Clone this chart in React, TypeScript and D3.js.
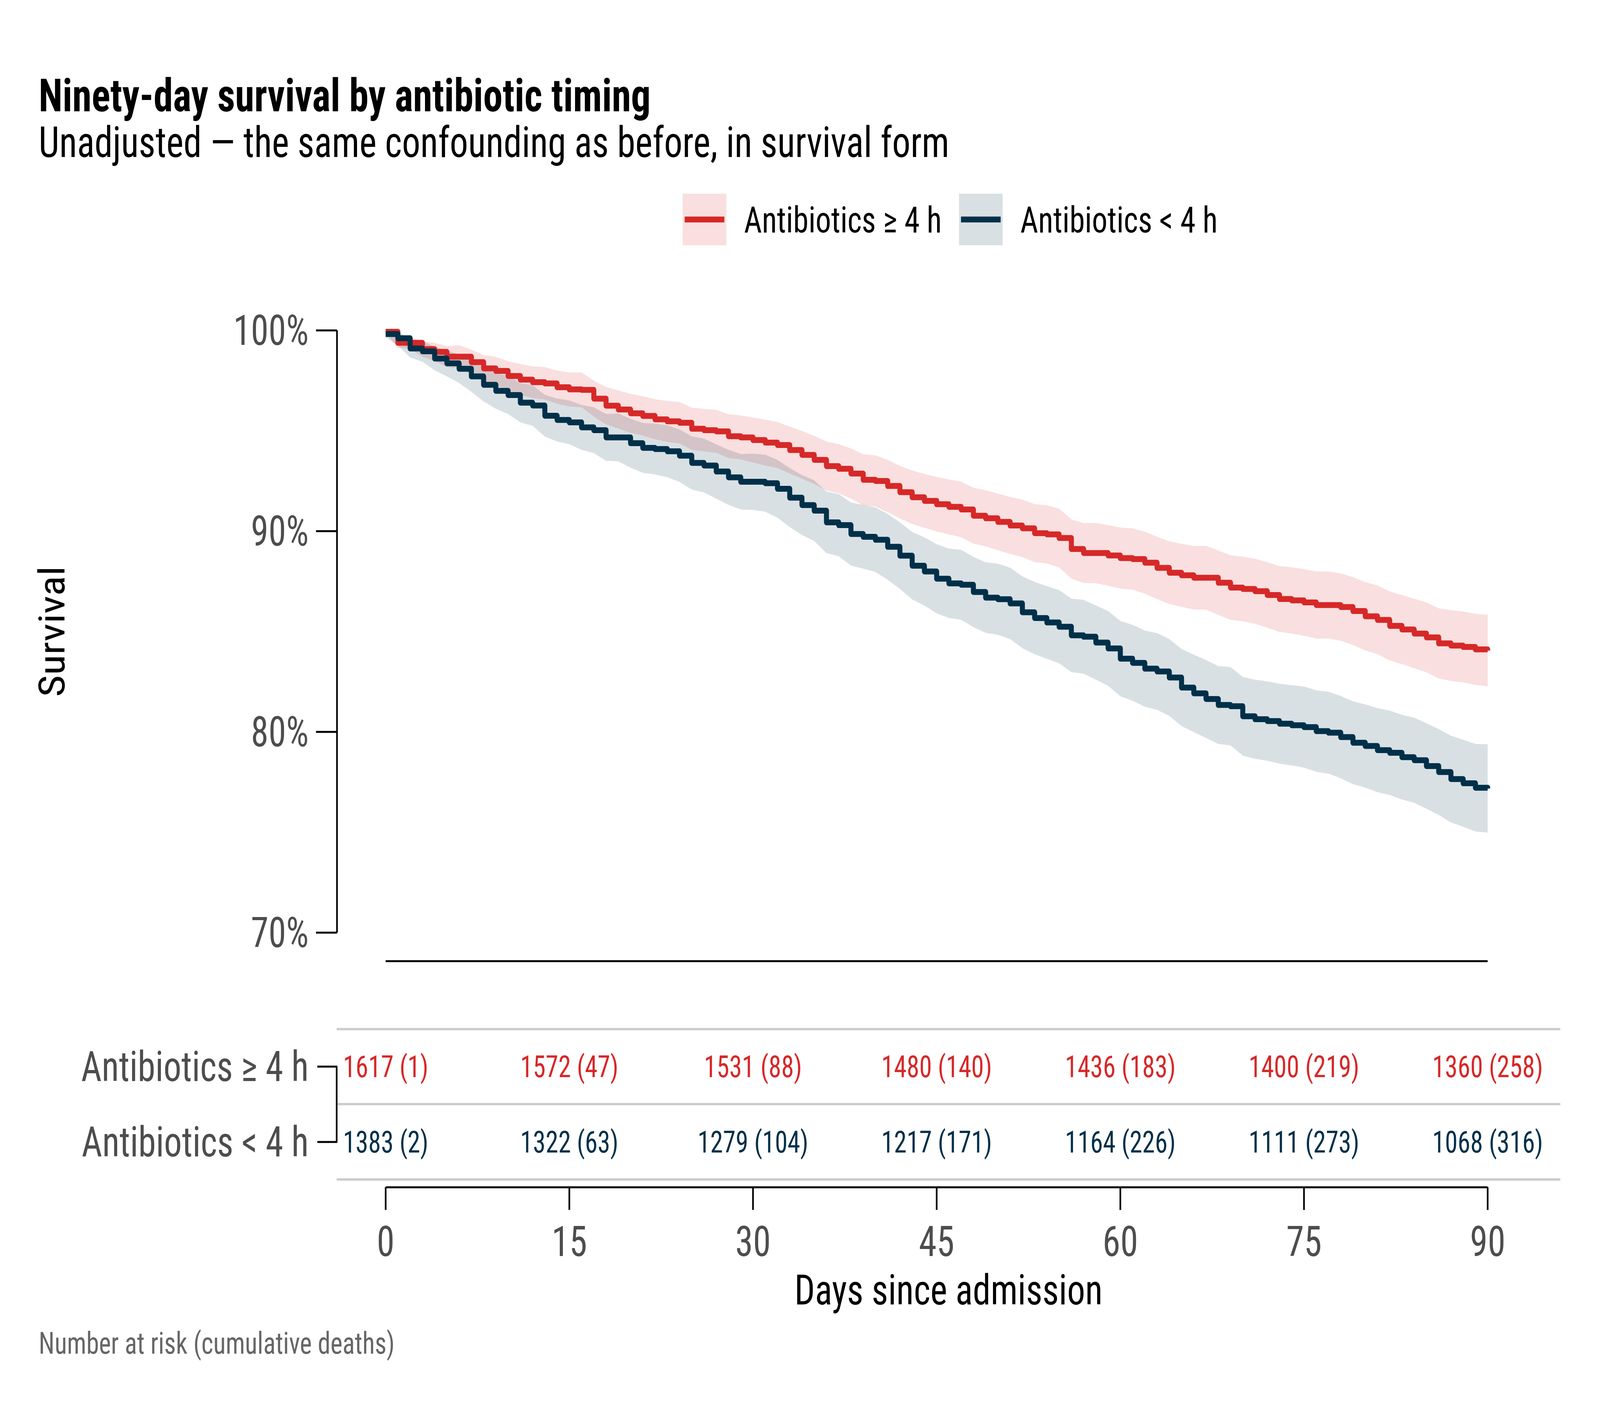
import React from 'react';
import * as d3 from 'd3';

// ---------- DATA ----------
const days = d3.range(0, 91);

// Kaplan–Meier survival (%) by day, Antibiotics ≥ 4 h
const survLate = [
  99.93, 99.38, 99.38, 99.07, 98.93, 98.69, 98.69, 98.42, 98.11, 97.98,
  97.73, 97.55, 97.42, 97.36, 97.17, 97.06, 97.04, 96.60, 96.25, 96.06,
  95.87, 95.74, 95.57, 95.47, 95.40, 95.10, 95.03, 94.97, 94.73, 94.67,
  94.54, 94.41, 94.29, 94.04, 93.80, 93.55, 93.24, 93.11, 92.87, 92.56,
  92.50, 92.25, 91.94, 91.69, 91.51, 91.34, 91.21, 91.08, 90.77, 90.64,
  90.46, 90.28, 90.14, 89.90, 89.84, 89.66, 89.11, 88.91, 88.91, 88.79,
  88.66, 88.61, 88.43, 88.17, 87.93, 87.80, 87.68, 87.68, 87.43, 87.19,
  87.12, 87.01, 86.82, 86.62, 86.55, 86.45, 86.32, 86.32, 86.22, 86.02,
  85.76, 85.58, 85.28, 85.10, 84.90, 84.71, 84.41, 84.30, 84.23, 84.11,
  84.05,
];
const lateUpper = [
  99.98, 99.63, 99.68, 99.45, 99.38, 99.21, 99.26, 99.04, 98.77, 98.68,
  98.47, 98.32, 98.21, 98.17, 98.00, 97.91, 97.91, 97.50, 97.18, 97.01,
  96.84, 96.72, 96.57, 96.49, 96.43, 96.15, 96.09, 96.04, 95.82, 95.77,
  95.66, 95.55, 95.44, 95.21, 94.99, 94.75, 94.46, 94.34, 94.12, 93.83,
  93.78, 93.55, 93.25, 93.02, 92.85, 92.70, 92.58, 92.46, 92.16, 92.04,
  91.87, 91.70, 91.57, 91.34, 91.29, 91.12, 90.59, 90.40, 90.41, 90.30,
  90.18, 90.14, 89.97, 89.72, 89.49, 89.37, 89.26, 89.27, 89.03, 88.80,
  88.73, 88.63, 88.45, 88.26, 88.20, 88.11, 87.99, 87.99, 87.90, 87.71,
  87.46, 87.29, 87.00, 86.82, 86.63, 86.45, 86.16, 86.06, 85.99, 85.88,
  85.83,
];
const lateLower = [
  99.88, 99.13, 99.08, 98.69, 98.48, 98.17, 98.12, 97.80, 97.45, 97.28,
  96.99, 96.78, 96.63, 96.55, 96.34, 96.21, 96.17, 95.70, 95.32, 95.11,
  94.90, 94.76, 94.57, 94.45, 94.37, 94.05, 93.97, 93.90, 93.64, 93.57,
  93.42, 93.27, 93.14, 92.87, 92.61, 92.35, 92.02, 91.88, 91.62, 91.29,
  91.22, 90.95, 90.63, 90.36, 90.17, 89.98, 89.84, 89.70, 89.38, 89.24,
  89.05, 88.86, 88.71, 88.46, 88.39, 88.20, 87.63, 87.42, 87.41, 87.28,
  87.14, 87.08, 86.89, 86.62, 86.37, 86.23, 86.10, 86.09, 85.83, 85.58,
  85.51, 85.39, 85.19, 84.98, 84.90, 84.79, 84.65, 84.65, 84.54, 84.33,
  84.06, 83.87, 83.56, 83.38, 83.17, 82.97, 82.66, 82.54, 82.47, 82.34,
  82.27,
];

// Kaplan–Meier survival (%) by day, Antibiotics < 4 h
const survEarly = [
  99.82, 99.61, 99.10, 98.96, 98.60, 98.36, 98.09, 97.71, 97.29, 96.99,
  96.78, 96.40, 96.26, 95.75, 95.54, 95.42, 95.17, 95.03, 94.67, 94.67,
  94.38, 94.15, 94.09, 93.98, 93.76, 93.40, 93.27, 92.97, 92.68, 92.46,
  92.46, 92.39, 92.11, 91.67, 91.30, 91.02, 90.44, 90.30, 89.86, 89.72,
  89.57, 89.22, 88.78, 88.28, 87.99, 87.63, 87.40, 87.33, 86.97, 86.69,
  86.61, 86.40, 85.96, 85.67, 85.45, 85.24, 84.81, 84.74, 84.45, 84.16,
  83.65, 83.44, 83.15, 83.01, 82.71, 82.21, 81.92, 81.64, 81.34, 81.28,
  80.78, 80.63, 80.54, 80.41, 80.33, 80.24, 80.04, 79.96, 79.74, 79.46,
  79.30, 79.09, 78.96, 78.74, 78.59, 78.30, 78.00, 77.65, 77.44, 77.22,
  77.18,
];
const earlyUpper = [
  99.98, 99.96, 99.55, 99.48, 99.19, 99.01, 98.80, 98.48, 98.12, 97.88,
  97.73, 97.38, 97.27, 96.79, 96.61, 96.51, 96.29, 96.17, 95.84, 95.86,
  95.60, 95.39, 95.36, 95.27, 95.07, 94.73, 94.61, 94.32, 94.05, 93.84,
  93.86, 93.81, 93.55, 93.14, 92.79, 92.53, 91.97, 91.85, 91.43, 91.31,
  91.18, 90.86, 90.44, 89.96, 89.69, 89.35, 89.13, 89.07, 88.72, 88.45,
  88.38, 88.18, 87.75, 87.47, 87.26, 87.06, 86.64, 86.58, 86.30, 86.02,
  85.53, 85.33, 85.05, 84.92, 84.62, 84.13, 83.85, 83.58, 83.28, 83.23,
  82.74, 82.60, 82.52, 82.40, 82.33, 82.26, 82.07, 82.00, 81.79, 81.52,
  81.37, 81.18, 81.06, 80.85, 80.71, 80.43, 80.14, 79.81, 79.61, 79.40,
  79.38,
];
const earlyLower = [
  99.66, 99.26, 98.65, 98.44, 98.01, 97.71, 97.38, 96.94, 96.46, 96.10,
  95.83, 95.42, 95.25, 94.71, 94.47, 94.33, 94.05, 93.89, 93.50, 93.48,
  93.16, 92.91, 92.82, 92.69, 92.45, 92.07, 91.93, 91.62, 91.31, 91.08,
  91.06, 90.97, 90.67, 90.20, 89.81, 89.51, 88.91, 88.75, 88.29, 88.13,
  87.96, 87.58, 87.12, 86.60, 86.29, 85.91, 85.67, 85.59, 85.22, 84.93,
  84.84, 84.62, 84.17, 83.87, 83.64, 83.42, 82.98, 82.90, 82.60, 82.30,
  81.77, 81.55, 81.25, 81.10, 80.80, 80.29, 79.99, 79.70, 79.40, 79.33,
  78.82, 78.66, 78.56, 78.42, 78.33, 78.22, 78.01, 77.92, 77.69, 77.40,
  77.23, 77.00, 76.86, 76.63, 76.47, 76.17, 75.86, 75.49, 75.27, 75.04,
  74.98,
];

const groupNames = ['Antibiotics \u2265 4 h', 'Antibiotics < 4 h'];
const groupColors = ['#d62828', '#003049'];

const riskTimes = [0, 15, 30, 45, 60, 75, 90];
const atRiskLate = [1617, 1572, 1531, 1480, 1436, 1400, 1360];
const deathsLate = [1, 47, 88, 140, 183, 219, 258];
const atRiskEarly = [1383, 1322, 1279, 1217, 1164, 1111, 1068];
const deathsEarly = [2, 63, 104, 171, 226, 273, 316];

const yTicks = [70, 80, 90, 100];
const xTicks = [0, 15, 30, 45, 60, 75, 90];

const titleText = 'Ninety-day survival by antibiotic timing';
const subtitleText = 'Unadjusted \u2014 the same confounding as before, in survival form';
const captionText = 'Number at risk (cumulative deaths)';

// ---------- LAYOUT ----------
const W = 4800;
const H = 3600;
const FONT = "'Roboto Condensed', 'Roboto', 'Noto Sans', sans-serif";
const STRETCH = 'condensed';

const x = d3.scaleLinear().domain([0, 90]).range([1157, 4463]);
const y = d3.scaleLinear().domain([70, 100]).range([2388, 846]);
const panelLeft = 1010;
const panelRight = 4681;
const panelBottom = 2461;

type Pt = { t: number; s: number; lo: number; hi: number };

function series(s: number[], lo: number[], hi: number[]): Pt[] {
  return days.map((t, i) => ({ t, s: s[i], lo: lo[i], hi: hi[i] }));
}

const groups = [
  { name: groupNames[0], color: groupColors[0], pts: series(survLate, lateLower, lateUpper), atRisk: atRiskLate, deaths: deathsLate },
  { name: groupNames[1], color: groupColors[1], pts: series(survEarly, earlyLower, earlyUpper), atRisk: atRiskEarly, deaths: deathsEarly },
];

const stepLine = d3
  .line<Pt>()
  .curve(d3.curveStepAfter)
  .x((d) => x(d.t))
  .y((d) => y(d.s));

const band = d3
  .area<Pt>()
  .x((d) => x(d.t))
  .y0((d) => y(d.lo))
  .y1((d) => y(d.hi));

const rowY = [2731, 2924];
const tableLines = [2635, 2827, 3020];

export default function App() {
  const textBase = { fontFamily: FONT, fontStretch: STRETCH } as React.CSSProperties;
  return (
    <svg
      viewBox={`0 0 ${W} ${H}`}
      preserveAspectRatio="none"
      style={{ position: 'fixed', left: 0, top: 0, width: '100vw', height: '100vh', display: 'block', background: '#ffffff' }}
    >
      <rect x={0} y={0} width={W} height={H} fill="#ffffff" />

      {/* Title & subtitle */}
      <text x={116} y={285} fontSize={117} fontWeight={700} fill="#000" style={textBase}>
        {titleText}
      </text>
      <text x={116} y={402} fontSize={110} fill="#000" style={textBase}>
        {subtitleText}
      </text>

      {/* Legend */}
      {groups.map((g, i) => {
        const kx = [2048, 2877][i];
        return (
          <g key={g.name}>
            <rect x={kx} y={496} width={131} height={132} fill={g.color} fillOpacity={0.15} />
            <line x1={kx + 6} x2={kx + 125} y1={562} y2={562} stroke={g.color} strokeWidth={15} />
            <text x={kx + 184} y={562} dy="0.35em" fontSize={93} fill="#000" style={textBase}>
              {g.name}
            </text>
          </g>
        );
      })}

      {/* Ribbons */}
      {groups.map((g) => (
        <path key={g.name + '-band'} d={band(g.pts) || ''} fill={g.color} fillOpacity={0.15} stroke="none" />
      ))}

      {/* Survival curves */}
      {groups.map((g) => (
        <path
          key={g.name + '-line'}
          d={stepLine(g.pts) || ''}
          fill="none"
          stroke={g.color}
          strokeWidth={15}
          strokeLinejoin="round"
        />
      ))}

      {/* Y axis (capped) */}
      <line x1={1011} x2={1011} y1={y(100)} y2={y(70)} stroke="#000" strokeWidth={5} />
      {yTicks.map((v) => (
        <g key={v}>
          <line x1={948} x2={1011} y1={y(v)} y2={y(v)} stroke="#000" strokeWidth={5} />
          <text x={926} y={y(v)} dy="0.35em" textAnchor="end" fontSize={107} fill="#4d4d4d" style={textBase}>
            {`${v}%`}
          </text>
        </g>
      ))}
      <text
        transform={`translate(193, ${(y(100) + y(70)) / 2}) rotate(-90)`}
        textAnchor="middle"
        fontSize={108}
        fill="#000"
        style={textBase}
      >
        Survival
      </text>

      {/* Panel bottom line (capped x axis) */}
      <line x1={x(0)} x2={x(90)} y1={panelBottom} y2={panelBottom} stroke="#000" strokeWidth={5} />

      {/* Risk table */}
      {tableLines.map((ly) => (
        <line key={ly} x1={panelLeft} x2={panelRight} y1={ly} y2={ly} stroke="#cccccc" strokeWidth={6} />
      ))}
      <line x1={1010} x2={1010} y1={rowY[0]} y2={rowY[1]} stroke="#000" strokeWidth={5} />
      {groups.map((g, i) => (
        <g key={g.name + '-risk'}>
          <line x1={952} x2={1012} y1={rowY[i]} y2={rowY[i]} stroke="#000" strokeWidth={5} />
          <text x={926} y={rowY[i]} dy="0.35em" textAnchor="end" fontSize={107} fill="#4d4d4d" style={textBase}>
            {g.name}
          </text>
          {riskTimes.map((t, j) => (
            <text
              key={t}
              x={x(t)}
              y={rowY[i]}
              dy="0.35em"
              textAnchor="middle"
              fontSize={77}
              fill={g.color}
              style={textBase}
            >
              {`${g.atRisk[j]} (${g.deaths[j]})`}
            </text>
          ))}
        </g>
      ))}

      {/* X axis */}
      <line x1={x(0)} x2={x(90)} y1={3040} y2={3040} stroke="#000" strokeWidth={5} />
      {xTicks.map((t) => (
        <g key={t}>
          <line x1={x(t)} x2={x(t)} y1={3040} y2={3098} stroke="#000" strokeWidth={5} />
          <text x={x(t)} y={3216} textAnchor="middle" fontSize={108} fill="#4d4d4d" style={textBase}>
            {t}
          </text>
        </g>
      ))}
      <text x={(panelLeft + panelRight) / 2} y={3340} textAnchor="middle" fontSize={108} fill="#000" style={textBase}>
        Days since admission
      </text>

      {/* Caption */}
      <text x={116} y={3466} fontSize={77} fill="#666666" style={textBase}>
        {captionText}
      </text>
    </svg>
  );
}
